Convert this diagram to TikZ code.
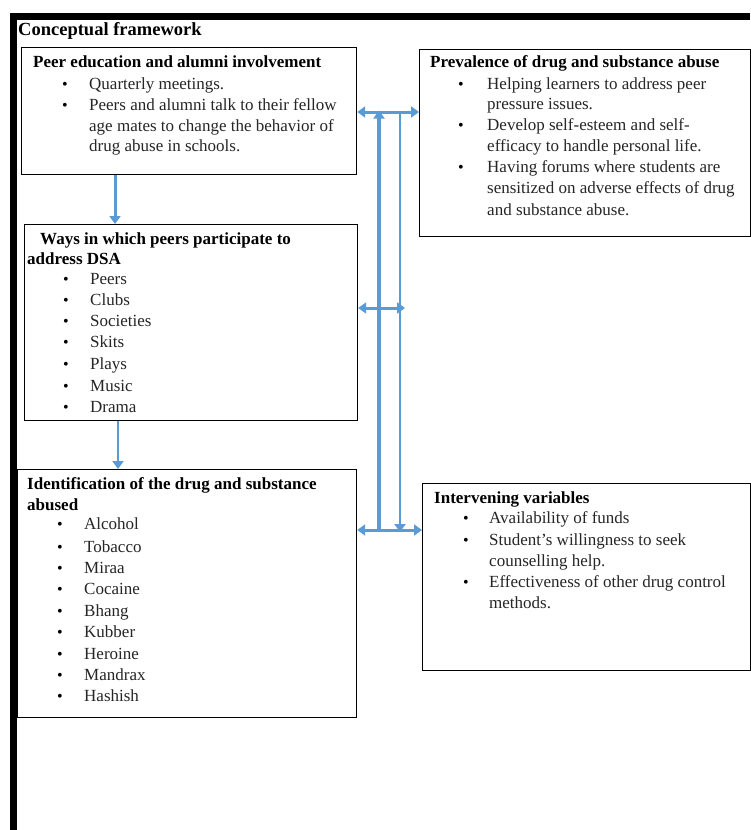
\documentclass[tikz,border=0pt]{standalone}
\usepackage{fontspec}
\setmainfont{Liberation Serif}
\usetikzlibrary{arrows.meta}
\definecolor{arrblue}{RGB}{91,155,213}
\newcommand{\fs}{\fontsize{17}{21}\selectfont}
\tikzset{
  box/.style={draw=black, line width=1.2pt, inner sep=0pt, anchor=north west, fill=white},
  txt/.style={anchor=base west, inner sep=0pt, font=\fs, text=black!85},
  hd/.style={anchor=base west, inner sep=0pt, font=\fs\bfseries},
  bul/.style={anchor=base, inner sep=0pt, font=\fontsize{16}{18}\selectfont},
  conn/.style={draw=arrblue, line width=3pt},
  tip/.style={-{Triangle[length=8pt,width=11pt]}},
  both/.style={{Triangle[length=8pt,width=11pt]}-{Triangle[length=8pt,width=11pt]}}
}
\begin{document}
\begin{tikzpicture}[x=1pt,y=-1pt]
\useasboundingbox (0,0) rectangle (750,830);
% outer frame
\fill[black] (10,13) rectangle (750,20);
\fill[black] (10,13) rectangle (17,830);
\node[hd, font=\fontsize{18.5}{21}\selectfont\bfseries] (title) at (18,35) {Conceptual framework};

% boxes
\node[box, minimum width=335pt, minimum height=127pt] (b1) at (21,47) {};
\node[box, minimum width=331pt, minimum height=187pt] (b2) at (419,49) {};
\node[box, minimum width=333pt, minimum height=196pt] (b3) at (24,224) {};
\node[box, minimum width=339pt, minimum height=248pt] (b4) at (17,469) {};
\node[box, minimum width=328pt, minimum height=187pt] (b5) at (422,483) {};

% box 1 text
\node[hd] (h1) at (33,67) {Peer education and alumni involvement};
\foreach \y/\t [count=\i] in {89/Quarterly meetings., 110/Peers and alumni talk to their fellow}
  {\node[bul] (b1b\i) at (65,\y) {\textbullet}; \node[txt] (b1t\i) at (89,\y) {\t};}
\node[txt] (b1t3) at (89,131) {age mates to change the behavior of};
\node[txt] (b1t4) at (89,151) {drug abuse in schools.};

% box 2 text
\node[hd] (h2) at (430,67) {Prevalence of drug and substance abuse};
\node[bul] (b2b1) at (461,89) {\textbullet};
\node[txt] (b2t1) at (487,89) {Helping learners to address peer};
\node[txt] (b2t2) at (487,109) {pressure issues.};
\node[bul] (b2b2) at (461,130) {\textbullet};
\node[txt] (b2t3) at (487,130) {Develop self-esteem and self-};
\node[txt] (b2t4) at (487,151) {efficacy to handle personal life.};
\node[bul] (b2b3) at (461,172) {\textbullet};
\node[txt] (b2t5) at (487,172) {Having forums where students are};
\node[txt] (b2t6) at (487,193) {sensitized on adverse effects of drug};
\node[txt] (b2t7) at (487,215) {and substance abuse.};

% box 3 text
\node[hd] (h3a) at (40,244) {Ways in which peers participate to};
\node[hd] (h3b) at (27,264) {address DSA};
\foreach \y/\t [count=\i] in {284/Peers, 305/Clubs, 326/Societies, 347/Skits, 369/Plays, 391/Music, 412/Drama}
  {\node[bul] (b3b\i) at (66,\y) {\textbullet}; \node[txt] (b3t\i) at (90,\y) {\t};}

% box 4 text
\node[hd] (h4a) at (27,489) {Identification of the drug and substance};
\node[hd] (h4b) at (27,510) {abused};
\foreach \y/\t [count=\i] in {529/Alcohol, 552/Tobacco, 573/Miraa, 594/Cocaine, 616/Bhang, 637/Kubber, 659/Heroine, 680/Mandrax, 701/Hashish}
  {\node[bul] (b4b\i) at (60,\y) {\textbullet}; \node[txt] (b4t\i) at (84,\y) {\t};}

% box 5 text
\node[hd] (h5) at (434,503) {Intervening variables};
\node[bul] (b5b1) at (466,523) {\textbullet};
\node[txt] (b5t1) at (489,523) {Availability of funds};
\node[bul] (b5b2) at (466,545) {\textbullet};
\node[txt] (b5t2) at (489,545) {Student's willingness to seek};
\node[txt] (b5t3) at (489,566) {counselling help.};
\node[bul] (b5b3) at (466,587) {\textbullet};
\node[txt] (b5t4) at (489,587) {Effectiveness of other drug control};
\node[txt] (b5t5) at (489,608) {methods.};

% connector guide coordinates
\coordinate (xa) at (115,0);
\coordinate (xb) at (118,0);
\coordinate (ytop) at (0,112);
\coordinate (ymid) at (0,308);
\coordinate (ybot) at (0,530);
\coordinate (vl) at (379,0);
\coordinate (vr) at (400,0);
\coordinate (midend) at (405,308);

% vertical arrows on the left
\draw[conn, tip] (b1.south -| xa) -- (b3.north -| xa);
\draw[conn, tip, line width=2.2pt] (b3.south -| xb) -- (b4.north -| xb);

% vertical bus lines
\draw[conn, tip, line width=3.5pt] (vl |- ybot) -- ([yshift=1.5pt]vl |- ytop);
\draw[conn, tip, line width=2.2pt] (vr |- ytop) -- ([yshift=-2pt]vr |- ybot);

% horizontal double arrows
\draw[conn, both] (b1.east |- ytop) -- (b2.west |- ytop);
\draw[conn, both] (b3.east |- ymid) -- (midend);
\draw[conn, both] (b4.east |- ybot) -- (b5.west |- ybot);
\end{tikzpicture}
\end{document}
